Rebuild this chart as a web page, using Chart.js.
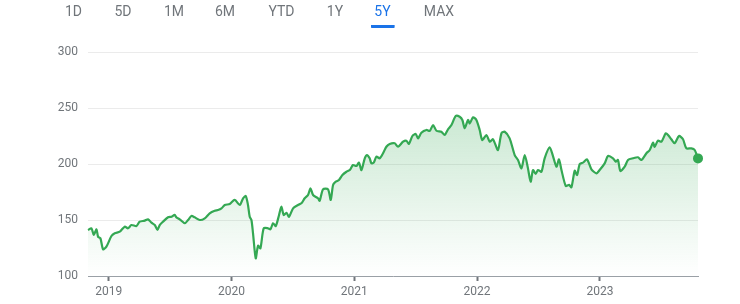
<!DOCTYPE html>
<html>
<head>
<meta charset="utf-8">
<script src="https://cdn.jsdelivr.net/npm/chart.js@4"></script>
<style>
  body { margin: 0; background: #fff; font-family: Roboto, Arial, sans-serif; }
  #wrap { position: relative; width: 740px; height: 304px; overflow: hidden; }
  #tabs { position: absolute; top: 0; left: 0; width: 740px; height: 30px; }
  #tabs span { position: absolute; top: 3px; transform: translateX(-50%); font-size: 14px; color: #70757a; line-height: 16px; padding: 0 4px 6px; }
  #tabs span.active { color: #1a73e8; border-bottom: 3px solid #1a73e8; border-radius: 1px; }
  canvas { position: absolute; top: 0; left: 0; }
</style>
</head>
<body>
<div id="wrap">
  <canvas id="chart" width="740" height="304"></canvas>
  <div id="tabs"></div>
</div>
<script>
// диапазоны над графиком
const ranges = ['1D', '5D', '1M', '6M', 'YTD', '1Y', '5Y', 'MAX'];
const activeRange = '5Y';

// деления осей
const yearTicks = [2019, 2020, 2021, 2022, 2023];
const priceTicks = [100, 150, 200, 250, 300];

// даты точек (в долях года) и цены
const dates = [
    2018.831, 2018.859, 2018.878, 2018.900, 2018.913, 2018.932, 2018.954, 2018.981, 2019.022, 2019.049,
    2019.090, 2019.130, 2019.157, 2019.185, 2019.226, 2019.252, 2019.293, 2019.320, 2019.348, 2019.375,
    2019.397, 2019.415, 2019.442, 2019.483, 2019.511, 2019.537, 2019.551, 2019.578, 2019.619, 2019.646,
    2019.673, 2019.700, 2019.741, 2019.782, 2019.822, 2019.863, 2019.890, 2019.918, 2019.945, 2019.985,
    2020.026, 2020.067, 2020.094, 2020.116, 2020.134, 2020.148, 2020.162, 2020.175, 2020.197, 2020.216,
    2020.235, 2020.262, 2020.297, 2020.317, 2020.338, 2020.360, 2020.387, 2020.406, 2020.425, 2020.447,
    2020.468, 2020.501, 2020.541, 2020.569, 2020.596, 2020.623, 2020.643, 2020.664, 2020.704, 2020.718,
    2020.745, 2020.786, 2020.808, 2020.827, 2020.849, 2020.875, 2020.903, 2020.936, 2020.963, 2020.989,
    2021.017, 2021.038, 2021.058, 2021.085, 2021.103, 2021.125, 2021.139, 2021.158, 2021.180, 2021.207,
    2021.234, 2021.261, 2021.288, 2021.329, 2021.356, 2021.397, 2021.424, 2021.445, 2021.473, 2021.500,
    2021.519, 2021.546, 2021.587, 2021.614, 2021.641, 2021.669, 2021.709, 2021.736, 2021.763, 2021.791,
    2021.826, 2021.858, 2021.880, 2021.899, 2021.926, 2021.940, 2021.967, 2021.994, 2022.021, 2022.042,
    2022.076, 2022.103, 2022.129, 2022.170, 2022.198, 2022.225, 2022.265, 2022.306, 2022.333, 2022.361,
    2022.388, 2022.414, 2022.436, 2022.455, 2022.477, 2022.496, 2022.524, 2022.550, 2022.591, 2022.618,
    2022.646, 2022.667, 2022.687, 2022.722, 2022.749, 2022.768, 2022.795, 2022.814, 2022.836, 2022.862,
    2022.895, 2022.931, 2022.972, 2022.998, 2023.039, 2023.066, 2023.107, 2023.129, 2023.147, 2023.167,
    2023.202, 2023.229, 2023.270, 2023.310, 2023.338, 2023.379, 2023.406, 2023.433, 2023.446, 2023.473,
    2023.501, 2023.536, 2023.555, 2023.582, 2023.609, 2023.644, 2023.677, 2023.704, 2023.745, 2023.772,
    2023.799
];
const prices = [
    141.1, 142.6, 136.6, 141.7, 135.1, 133.7, 123.8, 126.2, 135.7, 138.1,
    139.6, 144.0, 142.6, 145.5, 144.6, 148.5, 149.4, 150.6, 147.6, 145.5,
    141.1, 145.5, 148.5, 152.4, 152.9, 154.5, 152.4, 150.6, 147.1, 150.0,
    153.6, 152.4, 150.0, 151.5, 156.0, 158.3, 158.9, 160.4, 163.4, 164.3,
    167.9, 163.4, 169.4, 171.4, 163.4, 152.9, 150.0, 138.1, 115.8, 127.0,
    124.7, 142.6, 142.6, 141.7, 147.1, 144.6, 154.5, 161.9, 154.5, 156.5,
    152.9, 160.4, 163.4, 164.9, 169.4, 172.3, 178.3, 172.3, 169.4, 167.2,
    177.4, 177.4, 167.9, 181.3, 184.2, 185.7, 190.2, 193.1, 194.6, 199.1,
    198.2, 201.2, 194.6, 205.1, 208.0, 205.1, 200.6, 201.2, 206.5, 205.1,
    209.6, 215.4, 217.9, 218.5, 215.4, 219.9, 220.8, 217.9, 225.0, 226.8,
    222.9, 227.9, 230.4, 229.5, 234.8, 229.7, 228.8, 225.9, 231.0, 234.8,
    242.9, 242.2, 239.3, 231.9, 239.3, 236.3, 241.7, 239.3, 230.4, 221.4,
    225.9, 219.9, 222.1, 212.5, 227.4, 228.8, 222.9, 208.0, 203.6, 196.2,
    208.0, 196.2, 184.2, 194.6, 191.1, 194.6, 193.1, 205.1, 214.9, 207.1,
    197.6, 204.2, 194.6, 180.4, 181.3, 179.2, 194.0, 190.2, 200.0, 201.2,
    204.2, 195.3, 191.7, 194.6, 200.6, 207.1, 205.1, 202.1, 203.6, 193.8,
    197.6, 203.6, 205.1, 206.0, 203.6, 209.6, 212.5, 219.0, 215.4, 220.8,
    219.9, 227.4, 225.9, 222.1, 218.5, 225.0, 222.1, 214.0, 214.0, 212.5,
    205.0
];

// вкладки
const tabPos = [73.5, 123, 174, 225, 281.5, 335, 382.5, 439];
const tabsEl = document.getElementById('tabs');
ranges.forEach(function (r, i) {
    const s = document.createElement('span');
    s.textContent = r;
    s.style.left = tabPos[i] + 'px';
    if (r === activeRange) s.className = 'active';
    tabsEl.appendChild(s);
});

const green = '#34a853';
const points = dates.map((d, i) => ({ x: d, y: prices[i] }));
const lastIndex = points.length - 1;

const ctx = document.getElementById('chart').getContext('2d');
const chart = new Chart(ctx, {
    type: 'line',
    data: {
        datasets: [{
            data: points,
            borderColor: green,
            borderWidth: 2.2,
            tension: 0.25,
            fill: 'start',
            clip: false,
            backgroundColor: function (context) {
                const area = context.chart.chartArea;
                if (!area) return 'rgba(52,168,83,0.1)';
                const y0 = context.chart.scales.y.getPixelForValue(245);
                const g = context.chart.ctx.createLinearGradient(0, y0, 0, area.bottom);
                g.addColorStop(0, 'rgba(52,168,83,0.26)');
                g.addColorStop(1, 'rgba(52,168,83,0.0)');
                return g;
            },
            pointRadius: ctx => ctx.dataIndex === lastIndex ? 5 : 0,
            pointBackgroundColor: green,
            pointBorderWidth: 0,
            pointHoverRadius: 0
        }]
    },
    options: {
        responsive: false,
        animation: false,
        layout: { padding: { top: 52, right: 42, left: 0, bottom: 0 } },
        plugins: {
            legend: { display: false },
            tooltip: { enabled: false }
        },
        scales: {
            x: {
                type: 'linear',
                min: dates[0],
                max: dates[lastIndex],
                afterBuildTicks: function (scale) {
                    scale.ticks = yearTicks.map(v => ({ value: v }));
                },
                afterFit: function (scale) { scale.height = 28; },
                grid: {
                    drawOnChartArea: false,
                    drawTicks: true,
                    tickLength: 5,
                    tickWidth: 2,
                    tickColor: '#70757a'
                },
                border: { display: true, color: '#9aa0a6', width: 1 },
                ticks: {
                    padding: 4,
                    maxRotation: 0,
                    color: '#70757a',
                    font: { family: 'Roboto', size: 12 },
                    callback: v => String(v)
                }
            },
            y: {
                min: 100,
                max: 300,
                afterBuildTicks: function (scale) {
                    scale.ticks = priceTicks.map(v => ({ value: v }));
                },
                afterFit: function (scale) { scale.width = 88; },
                grid: {
                    drawTicks: false,
                    color: '#ebebeb',
                    lineWidth: 1
                },
                border: { display: false },
                ticks: {
                    padding: 10,
                    color: '#70757a',
                    font: { family: 'Roboto', size: 12 },
                    callback: v => String(v)
                }
            }
        }
    }
});
</script>
</body>
</html>
